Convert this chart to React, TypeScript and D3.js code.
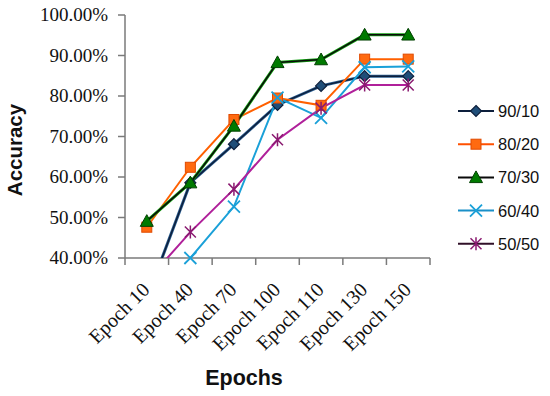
import { useEffect, useRef } from 'react'
import * as d3 from 'd3'

const categories = ['Epoch 10', 'Epoch 40', 'Epoch 70', 'Epoch 100', 'Epoch 110', 'Epoch 130', 'Epoch 150']
const yTicks = [40, 50, 60, 70, 80, 90, 100]

const seriesNames = ['90/10', '80/20', '70/30', '60/40', '50/50']
const acc9010 = [30, 58.6, 68.1, 77.8, 82.5, 84.9, 84.9]
const acc8020 = [47.6, 62.4, 74.2, 79.5, 77.7, 89.1, 89.1]
const acc7030 = [49.1, 58.6, 72.6, 88.3, 89.0, 95.1, 95.1]
const acc6040 = [30, 40.0, 52.7, 79.6, 74.6, 87.1, 87.3]
const acc5050 = [34.3, 46.4, 57.0, 69.2, 77.0, 82.7, 82.7]

const seriesStyle = [
  { line: '#0d1f3c', halo: '#2a5d8f', marker: 'diamond', fill: '#1f4e79', stroke: '#0d1f3c', legendLine: '#0d1f3c' },
  { line: '#ff6000', halo: null, marker: 'square', fill: '#ff6a10', stroke: '#e04a00', legendLine: '#ff5000' },
  { line: '#0a0a0a', halo: '#10a010', marker: 'triangle', fill: '#007a00', stroke: '#004000', legendLine: '#0a0a0a' },
  { line: '#1aa0d8', halo: null, marker: 'x', fill: 'none', stroke: '#1aa0d8', legendLine: '#1a90c8' },
  { line: '#b0209a', halo: null, marker: 'star', fill: 'none', stroke: '#8a1a70', legendLine: '#301028' },
]

function drawMarker(g: any, type: string, x: number, y: number, fill: string, stroke: string) {
  if (type === 'diamond') {
    const s = 5.5
    g.append('path').attr('d', `M${x},${y - s}L${x + s},${y}L${x},${y + s}L${x - s},${y}Z`)
      .attr('fill', fill).attr('stroke', stroke).attr('stroke-width', 1.2)
  } else if (type === 'square') {
    const s = 5
    g.append('rect').attr('x', x - s).attr('y', y - s).attr('width', 2 * s).attr('height', 2 * s)
      .attr('fill', fill).attr('stroke', stroke).attr('stroke-width', 1)
  } else if (type === 'triangle') {
    const s = 6.5
    g.append('path').attr('d', `M${x},${y - s}L${x + s},${y + s * 0.8}L${x - s},${y + s * 0.8}Z`)
      .attr('fill', fill).attr('stroke', stroke).attr('stroke-width', 1)
  } else if (type === 'x') {
    const s = 6
    g.append('path').attr('d', `M${x - s},${y - s}L${x + s},${y + s}M${x - s},${y + s}L${x + s},${y - s}`)
      .attr('stroke', stroke).attr('stroke-width', 1.8).attr('fill', 'none')
  } else if (type === 'star') {
    const s = 5.5
    g.append('path').attr('d', `M${x - s},${y - s}L${x + s},${y + s}M${x - s},${y + s}L${x + s},${y - s}M${x},${y - s - 1}L${x},${y + s + 1}`)
      .attr('stroke', stroke).attr('stroke-width', 1.5).attr('fill', 'none')
  }
}

export default function App() {
  const svgRef = useRef<SVGSVGElement>(null)
  const width = 550
  const height = 396

  useEffect(() => {
    if (!svgRef.current) return
    const svg = d3.select(svgRef.current)
    svg.selectAll('*').remove()

    const left = 125, right = 430, top = 15, bottom = 258
    const x = d3.scaleBand().domain(categories).range([left, right])
    const y = d3.scaleLinear().domain([40, 100]).range([bottom, top])
    const cx = (c: string) => (x(c) as number) + x.bandwidth() / 2

    const allSeries = [acc9010, acc8020, acc7030, acc6040, acc5050]

    svg.append('defs').append('clipPath').attr('id', 'plotClip')
      .append('rect').attr('x', left).attr('y', 0).attr('width', right - left).attr('height', bottom)

    // Axes
    const axisColor = '#7a7a7a'
    svg.append('line').attr('x1', left).attr('x2', left).attr('y1', top).attr('y2', bottom)
      .attr('stroke', axisColor).attr('stroke-width', 1.5)
    svg.append('line').attr('x1', left).attr('x2', right).attr('y1', bottom).attr('y2', bottom)
      .attr('stroke', axisColor).attr('stroke-width', 1.5)

    yTicks.forEach(t => {
      svg.append('line').attr('x1', left - 7).attr('x2', left).attr('y1', y(t)).attr('y2', y(t))
        .attr('stroke', axisColor).attr('stroke-width', 1.5)
      svg.append('text').attr('x', 108).attr('y', y(t) + 6)
        .attr('text-anchor', 'end').attr('font-family', '"Liberation Serif", "Times New Roman", serif')
        .attr('font-size', 19).attr('fill', '#111').text(`${t.toFixed(2)}%`)
    })

    const bounds = categories.map(c => x(c) as number).concat([right])
    bounds.forEach(b => {
      svg.append('line').attr('x1', b).attr('x2', b).attr('y1', bottom).attr('y2', bottom + 7)
        .attr('stroke', axisColor).attr('stroke-width', 1.5)
    })

    categories.forEach(c => {
      svg.append('text')
        .attr('transform', `translate(${cx(c) + 4},${bottom + 33}) rotate(-45)`)
        .attr('text-anchor', 'end').attr('font-family', '"Liberation Serif", "Times New Roman", serif')
        .attr('font-size', 20).attr('fill', '#111').text(c)
    })

    // Titles
    svg.append('text').attr('transform', `translate(22,150) rotate(-90)`)
      .attr('text-anchor', 'middle').attr('font-family', '"Liberation Sans", Arial, sans-serif')
      .attr('font-weight', 'bold').attr('font-size', 20.5).attr('fill', '#111').text('Accuracy')
    svg.append('text').attr('x', 244).attr('y', 385)
      .attr('text-anchor', 'middle').attr('font-family', '"Liberation Sans", Arial, sans-serif')
      .attr('font-weight', 'bold').attr('font-size', 21.5).attr('fill', '#111').text('Epochs')

    // Lines
    const lineGen = d3.line<number>().x((d, i) => cx(categories[i])).y(d => y(d))
    const plot = svg.append('g').attr('clip-path', 'url(#plotClip)')
    allSeries.forEach((vals, si) => {
      const st = seriesStyle[si]
      if (st.halo) {
        plot.append('path').datum(vals).attr('d', lineGen).attr('fill', 'none')
          .attr('stroke', st.halo).attr('stroke-width', 3)
      }
      plot.append('path').datum(vals).attr('d', lineGen).attr('fill', 'none')
        .attr('stroke', st.line).attr('stroke-width', st.halo ? 1.5 : 2)
    })

    // Markers
    allSeries.forEach((vals, si) => {
      const st = seriesStyle[si]
      const mg = svg.append('g')
      vals.forEach((v, i) => {
        if (v < 40) return
        drawMarker(mg, st.marker, cx(categories[i]), y(v), st.fill, st.stroke)
      })
    })

    // Legend
    seriesNames.forEach((name, i) => {
      const ly = 111 + i * 33.2
      const lg = svg.append('g')
      const st = seriesStyle[i]
      lg.append('line').attr('x1', 458).attr('x2', 494).attr('y1', ly).attr('y2', ly)
        .attr('stroke', st.legendLine).attr('stroke-width', 2)
      drawMarker(lg, st.marker, 476, ly, st.fill, st.stroke)
      lg.append('text').attr('x', 498).attr('y', ly + 6)
        .attr('font-family', '"Liberation Sans", Arial, sans-serif')
        .attr('font-size', 16.5).attr('fill', '#111').text(name)
    })
  }, [])

  return (
    <svg ref={svgRef} width={width} height={height}
      style={{ position: 'absolute', left: 0, top: 0, background: '#fff' }} />
  )
}
